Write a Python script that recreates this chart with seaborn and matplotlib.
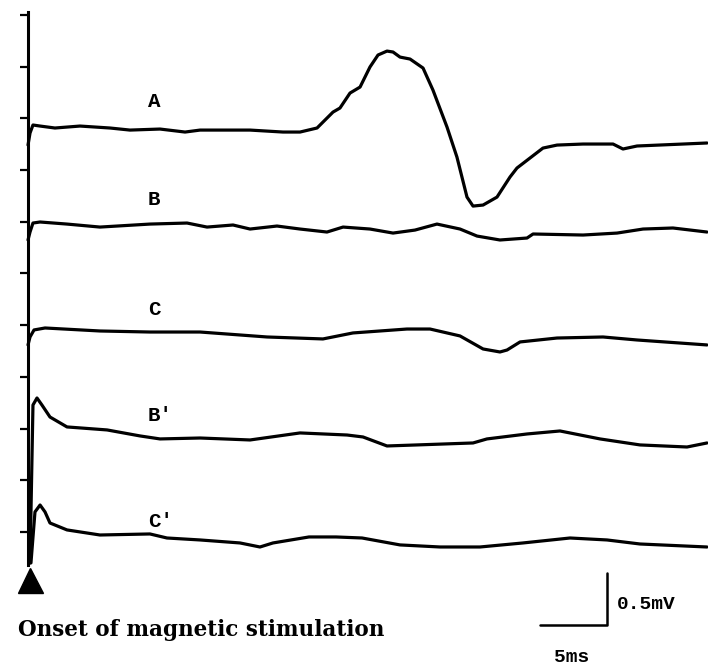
import numpy as np
import pandas as pd
import matplotlib
matplotlib.use("Agg")
import matplotlib.pyplot as plt
import seaborn as sns

# Trace data, time in ms after stimulus onset, amplitude in mV relative to each baseline
a_time = [0, 0.15, 0.37, 0.90, 2.01, 3.88, 6.12, 7.61, 9.85, 11.72, 12.84, 16.57, 19.03, 20.30,
          21.57, 22.76, 23.28, 24.03, 24.78, 25.52, 26.12, 26.79, 27.24, 27.76, 28.51, 29.48,
          30.22, 31.27, 32.01, 32.76, 33.21, 33.96, 35.00, 35.97, 36.49, 38.43, 39.48, 41.42,
          43.66, 44.40, 45.45, 48.88, 50.67]
a_mv = [-0.155, -0.039, 0.039, 0.029, 0.010, 0.029, 0.010, -0.010, 0.0, -0.029, -0.010, -0.010,
        -0.029, -0.029, 0.010, 0.164, 0.203, 0.348, 0.406, 0.600, 0.716, 0.754, 0.745, 0.696,
        0.677, 0.590, 0.377, 0.019, -0.271, -0.658, -0.745, -0.735, -0.658, -0.464, -0.377,
        -0.184, -0.155, -0.145, -0.145, -0.193, -0.164, -0.145, -0.135]

b_time = [0, 0.15, 0.37, 0.90, 2.91, 5.37, 9.10, 11.87, 13.36, 15.30, 16.57, 18.58, 20.30, 22.31,
          23.51, 25.52, 27.24, 28.88, 30.52, 32.24, 33.51, 35.22, 37.24, 37.69, 41.42, 43.96,
          45.90, 48.13, 50.67]
b_mv = [-0.135, -0.058, 0.029, 0.039, 0.019, -0.010, 0.019, 0.029, -0.010, 0.010, -0.029, 0.0,
        -0.029, -0.058, -0.010, -0.029, -0.068, -0.039, 0.019, -0.029, -0.097, -0.135, -0.116,
        -0.077, -0.087, -0.068, -0.029, -0.019, -0.058]

c_time = [0, 0.15, 0.45, 1.27, 5.37, 9.10, 12.84, 17.84, 22.01, 24.25, 28.28, 30.00, 32.24,
          33.96, 35.22, 35.75, 36.72, 39.48, 42.91, 45.45, 50.67]
c_mv = [-0.135, -0.058, 0.010, 0.029, 0.0, -0.010, -0.010, -0.058, -0.077, -0.019, 0.019, 0.019,
        -0.048, -0.174, -0.203, -0.184, -0.106, -0.068, -0.058, -0.087, -0.135]

b2_time = [0.15, 0.37, 0.67, 1.04, 1.64, 2.91, 5.90, 8.36, 9.85, 12.84, 16.57, 20.30, 23.81,
           25.00, 26.79, 29.03, 33.21, 34.25, 37.24, 39.70, 42.69, 45.67, 49.18, 50.67]
b2_mv = [-1.219, 0.309, 0.377, 0.309, 0.193, 0.097, 0.068, 0.010, -0.019, -0.010, -0.029, 0.039,
         0.019, 0.0, -0.087, -0.077, -0.058, -0.019, 0.029, 0.058, -0.019, -0.077, -0.097, -0.058]

c2_time = [0.22, 0.52, 0.90, 1.27, 1.64, 2.91, 5.37, 9.10, 10.37, 12.84, 15.82, 17.31, 18.28,
           20.97, 22.99, 24.93, 27.76, 30.75, 33.73, 36.94, 40.45, 43.21, 45.67, 50.67]
c2_mv = [-0.222, 0.271, 0.338, 0.271, 0.164, 0.097, 0.048, 0.058, 0.019, 0.0, -0.029, -0.068,
         -0.029, 0.029, 0.029, 0.019, -0.048, -0.068, -0.068, -0.029, 0.019, 0.0, -0.039, -0.068]

trace_names = ["A", "B", "C", "B'", "C'"]
trace_offsets = [3.897, 2.959, 1.944, 0.919, -0.077]
label_y = [4.168, 3.211, 2.147, 1.122, 0.097]

rows = []
for name, off, t, v in zip(trace_names, trace_offsets,
                           [a_time, b_time, c_time, b2_time, c2_time],
                           [a_mv, b_mv, c_mv, b2_mv, c2_mv]):
    for ti, vi in zip(t, v):
        rows.append({"trace": name, "time": ti, "mv": vi + off})
df = pd.DataFrame(rows)

sns.set_style("white")
fig = plt.figure(figsize=(7.08, 6.72), dpi=100)
ax = fig.add_axes([0, 0, 1, 1])

sns.lineplot(data=df, x="time", y="mv", units="trace", estimator=None, sort=False,
             color="black", linewidth=2.3, ax=ax)

ax.set_xlim(-2.090, 50.746)
ax.set_ylim(-1.354, 5.145)

# vertical axis with ticks every 0.5 mV
for s in ["top", "right", "bottom"]:
    ax.spines[s].set_visible(False)
ax.spines["left"].set_position(("data", 0))
ax.spines["left"].set_bounds(-0.32, 5.03)
ax.spines["left"].set_linewidth(2.2)
ax.spines["left"].set_color("black")
ax.set_yticks(np.arange(0, 5.01, 0.5))
ax.set_xticks([])
ax.tick_params(axis="y", left=True, direction="out", length=6, width=1.6, color="black",
               labelleft=False)
ax.set_xlabel("")
ax.set_ylabel("")

# trace labels
for name, ly in zip(trace_names, label_y):
    ax.text(8.96, ly, name, ha="left", va="center", fontsize=15, color="black",
            family="Liberation Mono", fontweight="bold")

# onset marker
ax.plot([0.15], [-0.464], marker="^", markersize=18, color="black")
ax.text(-0.75, -0.948, "Onset of magnetic stimulation", ha="left", va="center",
        fontsize=15.5, color="black", family="DejaVu Serif", fontweight="bold")

# scale bar: 5 ms x 0.5 mV
bar_t = [38.2, 43.2, 43.2]
bar_v = [-0.899, -0.899, -0.399]
ax.plot(bar_t, bar_v, color="black", linewidth=1.8)
ax.text(43.96, -0.706, "0.5mV", ha="left", va="center", fontsize=14, color="black",
        family="Liberation Mono", fontweight="bold")
ax.text(40.6, -1.209, "5ms", ha="center", va="center", fontsize=14, color="black",
        family="Liberation Mono", fontweight="bold")

fig.savefig("out.png", dpi=100)
